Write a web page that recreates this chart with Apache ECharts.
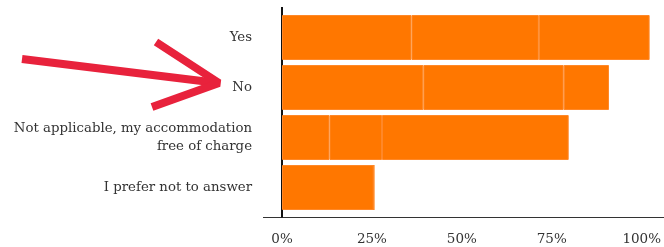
<!DOCTYPE html>
<html>
<head>
<meta charset="utf-8">
<script src="https://cdn.jsdelivr.net/npm/echarts@6/dist/echarts.min.js"></script>
<style>
  html, body { margin: 0; padding: 0; background: #fff; }
  #chart { width: 664px; height: 247px; }
</style>
</head>
<body>
<div id="chart"></div>
<script>
  // answers, top to bottom
  const categories = ['Yes', 'No', 'Not applicable, my accommodation\nfree of charge', 'I prefer not to answer']
  // three stacked parts of each bar (percent), same colour
  const partA = [36, 39.3, 13.2, 25.5]
  const partB = [35.4, 39, 14.6, 0]
  const partC = [30.8, 12.6, 51.9, 0]
  const tickLabels = ['0%', '25%', '50%', '75%', '100%']

  const W = 664, H = 247
  const gridLeft = 282, gridRight = 19, gridTop = 12.5, gridHeight = 200
  const orange = '#ff7700'
  const red = '#e8223c'
  const font = 'DejaVu Serif'

  const chart = echarts.init(document.getElementById('chart'), null, { renderer: 'canvas' })

  function part(name, data) {
    return {
      name,
      type: 'bar',
      stack: 'total',
      barWidth: 45,
      clip: false,
      data,
      itemStyle: { color: orange, borderColor: '#ff8828', borderWidth: 1 },
      silent: true
    }
  }

  const option = {
    animation: false,
    grid: { left: gridLeft, right: gridRight, top: gridTop, height: gridHeight },
    xAxis: {
      type: 'value',
      min: 0,
      max: 100,
      interval: 25,
      offset: 5,
      splitLine: { show: false },
      axisLine: { show: false },
      axisTick: { show: false },
      axisLabel: {
        margin: 15,
        fontFamily: font,
        fontSize: 13.5,
        color: '#333',
        formatter: (v) => tickLabels[v / 25]
      }
    },
    yAxis: {
      type: 'category',
      inverse: true,
      data: categories,
      axisLine: { show: false },
      axisTick: { show: false },
      axisLabel: {
        margin: 30,
        fontFamily: font,
        fontSize: 13.3,
        lineHeight: 18,
        color: '#333',
        align: 'right'
      }
    },
    series: [part('a', partA), part('b', partB), part('c', partC)],
    graphic: [
      // axis lines
      { type: 'line', shape: { x1: 263, y1: gridTop + gridHeight + 5, x2: W, y2: gridTop + gridHeight + 5 }, style: { stroke: '#333', lineWidth: 1 } },
      { type: 'line', shape: { x1: gridLeft, y1: 7, x2: gridLeft, y2: gridTop + gridHeight + 5 }, style: { stroke: '#111', lineWidth: 2 } },
      // red annotation arrow
      { type: 'line', shape: { x1: 22, y1: 59, x2: 218, y2: 83 }, style: { stroke: red, lineWidth: 8 } },
      { type: 'polyline', shape: { points: [[156, 42], [219, 83], [152, 107]] }, style: { stroke: red, lineWidth: 8, fill: null, lineJoin: 'bevel' } }
    ]
  }

  chart.setOption(option)
</script>
</body>
</html>
